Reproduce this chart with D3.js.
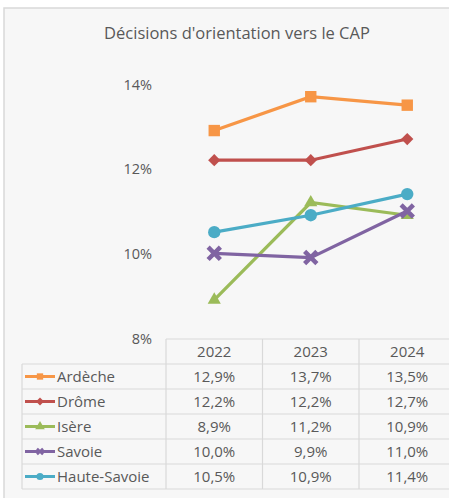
<!DOCTYPE html>
<html>
<head>
<meta charset="utf-8">
<script src="https://cdn.jsdelivr.net/npm/d3@7/dist/d3.min.js"></script>
<style>
  html, body { margin: 0; padding: 0; background: #fff; }
  svg text { font-family: "Open Sans", Lato, sans-serif; fill: #595959; }
</style>
</head>
<body>
<div id="js-chart"></div>
<script>
// data
const years = ['2022', '2023', '2024'];
const departements = ['Ardèche', 'Drôme', 'Isère', 'Savoie', 'Haute-Savoie'];
const ardeche = [12.9, 13.7, 13.5];
const drome = [12.2, 12.2, 12.7];
const isere = [8.9, 11.2, 10.9];
const savoie = [10.0, 9.9, 11.0];
const hauteSavoie = [10.5, 10.9, 11.4];
const yTicks = [8, 10, 12, 14];
const colors = ['#f79646', '#c0504d', '#9bbb59', '#8064a2', '#4bacc6'];
const markers = [d3.symbolSquare, d3.symbolDiamond2, d3.symbolTriangle, d3.symbolX, d3.symbolCircle];

const series = departements.map((name, i) => ({
	name: name,
	values: [ardeche, drome, isere, savoie, hauteSavoie][i],
	color: colors[i],
	marker: markers[i]
}));

const width = 449, height = 498;

const svg = d3.select('#js-chart')
	.append('svg')
	.attr('width', width)
	.attr('height', height);

// chart area background + frame
svg.append('rect')
	.attr('x', 4).attr('y', 8)
	.attr('width', width + 10).attr('height', height)
	.attr('fill', '#f7f7f7')
	.attr('stroke', '#d9d9d9')
	.attr('stroke-width', 1.5);

svg.append('text')
	.attr('x', 237).attr('y', 39)
	.attr('text-anchor', 'middle')
	.style('font-size', '16.5px')
	.text("Décisions d'orientation vers le CAP");

// table geometry
const tableLeft = 22, colStart = 166, colW = 96.5, headTop = 339, rowH = 25;

const x = d3.scaleBand()
	.domain(years)
	.range([colStart, colStart + colW * years.length]);

const y = d3.scaleLinear()
	.domain([8, 14])
	.range([338, 84]);

// y axis
const yAxis = svg.append('g')
	.attr('transform', 'translate(152,0)')
	.call(d3.axisLeft(y).tickValues(yTicks).tickSize(0).tickPadding(0).tickFormat(d => d + '%'));
yAxis.select('.domain').remove();
yAxis.selectAll('text')
	.style('font-size', '14.5px')
	.style('font-family', '"Open Sans", sans-serif')
	.attr('fill', '#595959')
	.attr('dy', '0.35em');

const line = d3.line()
	.x((d, i) => x(years[i]) + x.bandwidth() / 2)
	.y(d => y(d));

const markerSize = [130, 95, 75, 100, 120];

// lines
const seriesG = svg.selectAll('.serie')
	.data(series)
	.enter().append('g')
	.attr('class', 'serie');

seriesG.append('path')
	.attr('d', d => line(d.values))
	.attr('fill', 'none')
	.attr('stroke', d => d.color)
	.attr('stroke-width', 3.2);

seriesG.each(function(d, si) {
	d3.select(this).selectAll('path.pt')
		.data(d.values)
		.enter().append('path')
		.attr('class', 'pt')
		.attr('transform', (v, i) => `translate(${x(years[i]) + x.bandwidth() / 2},${y(v)})`)
		.attr('d', d3.symbol().type(d.marker).size(markerSize[si]))
		.attr('fill', d.color)
		.attr('stroke', d.marker === d3.symbolX ? d.color : 'none')
		.attr('stroke-width', 4.5);
});

// data table
const table = svg.append('g').attr('class', 'data-table');
const gridColor = '#d9d9d9';
const tableRight = colStart + colW * years.length;
const tableBottom = headTop + rowH * (departements.length + 1);

// horizontal lines
d3.range(departements.length + 2).forEach(r => {
	const yy = headTop + r * rowH;
	table.append('line')
		.attr('x1', r === 0 ? colStart : tableLeft).attr('x2', tableRight)
		.attr('y1', yy).attr('y2', yy)
		.attr('stroke', gridColor).attr('stroke-width', 1.2);
});
// vertical lines
table.append('line')
	.attr('x1', tableLeft).attr('x2', tableLeft)
	.attr('y1', headTop + rowH).attr('y2', tableBottom)
	.attr('stroke', gridColor).attr('stroke-width', 1.2);
d3.range(years.length + 1).forEach(c => {
	const xx = colStart + c * colW;
	table.append('line')
		.attr('x1', xx).attr('x2', xx)
		.attr('y1', headTop).attr('y2', tableBottom)
		.attr('stroke', gridColor).attr('stroke-width', 1.2);
});

// header
table.selectAll('.year')
	.data(years)
	.enter().append('text')
	.attr('x', d => x(d) + x.bandwidth() / 2)
	.attr('y', headTop + rowH / 2)
	.attr('dy', '0.35em')
	.attr('text-anchor', 'middle')
	.style('font-size', '15px')
	.text(d => d);

const fmt = v => d3.format('.1f')(v).replace('.', ',') + '%';

series.forEach((s, r) => {
	const cy = headTop + (r + 1) * rowH + rowH / 2;
	// legend key
	table.append('line')
		.attr('x1', 25).attr('x2', 55)
		.attr('y1', cy).attr('y2', cy)
		.attr('stroke', s.color).attr('stroke-width', 3);
	table.append('path')
		.attr('transform', `translate(40,${cy})`)
		.attr('d', d3.symbol().type(s.marker).size(s.marker === d3.symbolX ? 25 : 40))
		.attr('fill', s.color)
		.attr('stroke', s.marker === d3.symbolX ? s.color : 'none')
		.attr('stroke-width', 2.5);
	table.append('text')
		.attr('x', 57).attr('y', cy)
		.attr('dy', '0.35em')
		.style('font-size', '15px')
		.text(s.name);
	s.values.forEach((v, i) => {
		table.append('text')
			.attr('x', x(years[i]) + x.bandwidth() / 2)
			.attr('y', cy)
			.attr('dy', '0.35em')
			.attr('text-anchor', 'middle')
			.style('font-size', '15px')
			.text(fmt(v));
	});
});
</script>
</body>
</html>
